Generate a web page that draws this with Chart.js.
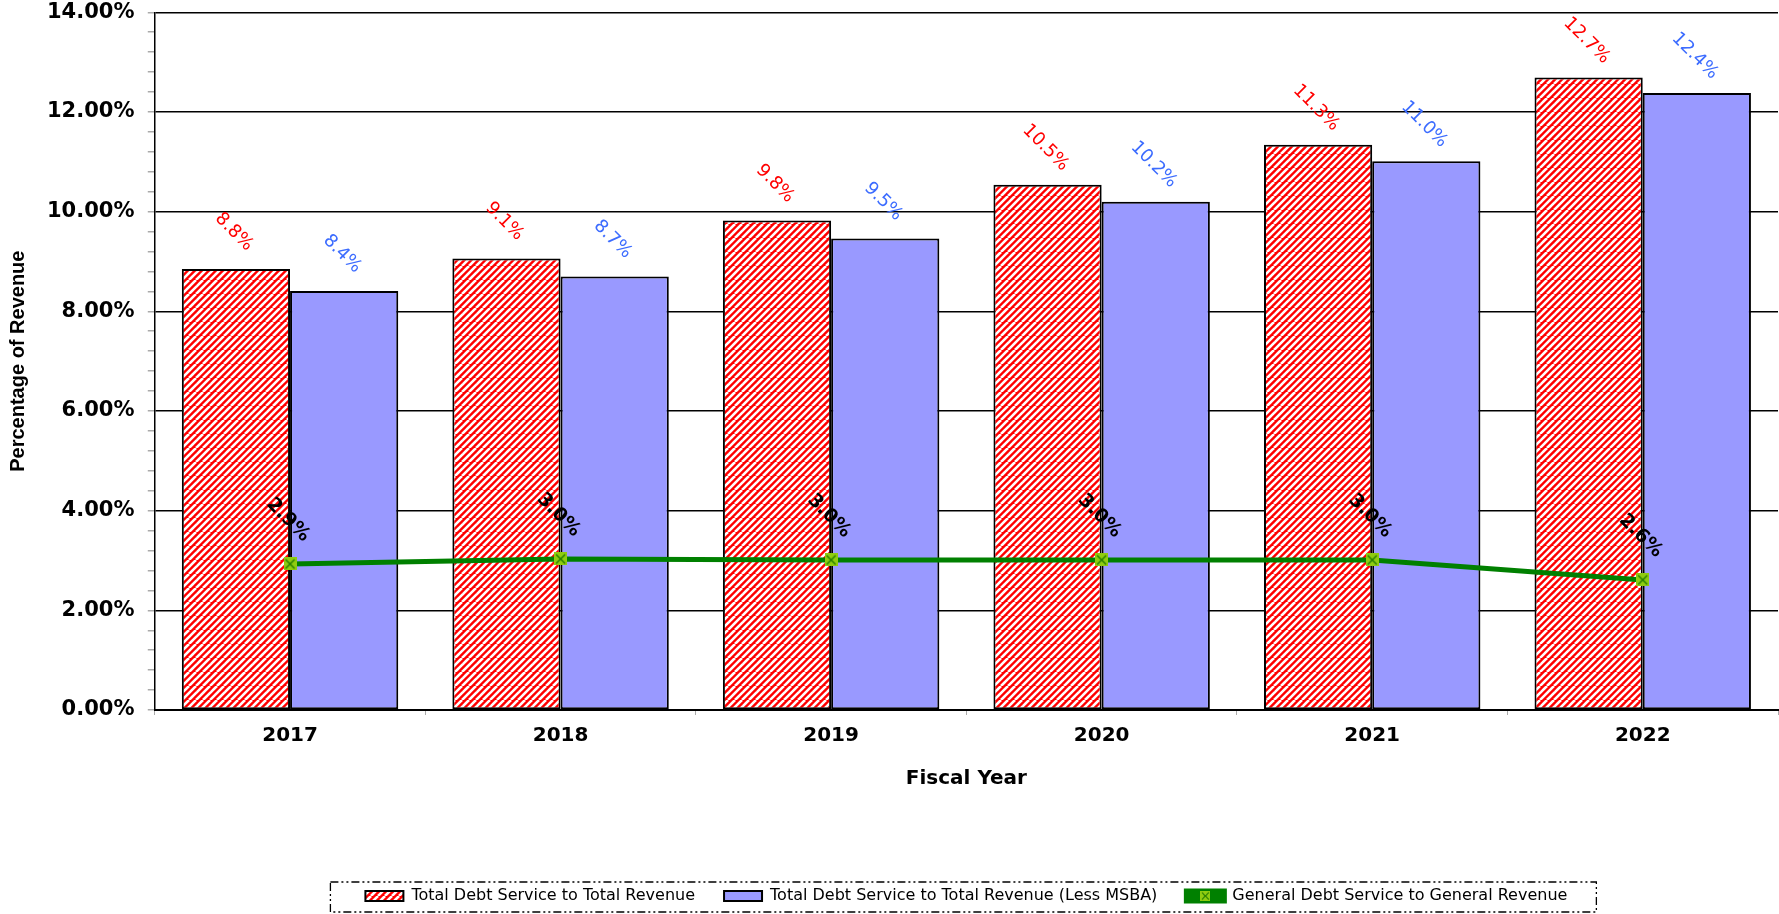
<!DOCTYPE html>
<html>
<head>
<meta charset="utf-8">
<script src="https://cdn.jsdelivr.net/npm/chart.js@4.4.1/dist/chart.umd.min.js"></script>
<style>
  html, body { margin: 0; padding: 0; background: #fff; overflow: hidden; }
  #wrap { width: 1779px; height: 914px; }
  canvas { display: block; }
</style>
</head>
<body>
<div id="wrap"><canvas id="debtChart" width="1779" height="914"></canvas></div>
<script>
const years = ["2017", "2018", "2019", "2020", "2021", "2022"];
const totalDebtToRevenue = [8.85, 9.06, 9.82, 10.54, 11.34, 12.69];
const totalDebtLessMsba = [8.41, 8.70, 9.46, 10.20, 11.01, 12.38];
const generalDebtToGeneral = [2.93, 3.03, 3.01, 3.01, 3.01, 2.61];
const yTickLabels = ["0.00%", "2.00%", "4.00%", "6.00%", "8.00%", "10.00%", "12.00%", "14.00%"];

// red / white diagonal hatch
function makeHatch() {
  const c = document.createElement("canvas");
  c.width = 14;
  c.height = 14;
  const g = c.getContext("2d");
  g.fillStyle = "#ff0000";
  g.fillRect(0, 0, 14, 14);
  g.strokeStyle = "#ffffff";
  g.lineWidth = 2.6;
  for (let x = -14; x <= 28; x += 7) {
    g.beginPath();
    g.moveTo(x, 14);
    g.lineTo(x + 14, 0);
    g.stroke();
  }
  return g.createPattern(c, "repeat");
}

// square marker with an X through it
function makeMarker() {
  const c = document.createElement("canvas");
  c.width = 13;
  c.height = 13;
  const g = c.getContext("2d");
  g.fillStyle = "#8fcc10";
  g.fillRect(0, 0, 13, 13);
  g.strokeStyle = "#1f7a00";
  g.lineWidth = 1.4;
  g.beginPath();
  g.moveTo(2, 2); g.lineTo(11, 11);
  g.moveTo(11, 2); g.lineTo(2, 11);
  g.stroke();
  return c;
}

const hatch = makeHatch();
const marker = makeMarker();

function isMajor(v) {
  return Math.abs(v / 2 - Math.round(v / 2)) < 1e-6;
}

const valueLabels = {
  id: "valueLabels",
  afterDatasetsDraw(chart) {
    const ctx = chart.ctx;
    chart.data.datasets.forEach((ds, i) => {
      const meta = chart.getDatasetMeta(i);
      meta.data.forEach((el, j) => {
        const v = ds.data[j];
        ctx.save();
        if (ds.type === "line") {
          ctx.translate(el.x - 2, el.y - 44);
          ctx.font = "bold 19px 'DejaVu Sans'";
        } else {
          ctx.translate(el.x - 2, el.y - 37);
          ctx.font = "18px 'DejaVu Sans'";
        }
        ctx.rotate(Math.PI / 4);
        ctx.fillStyle = ds.labelColor;
        ctx.textAlign = "center";
        ctx.textBaseline = "middle";
        ctx.fillText(v.toFixed(1) + "%", 0, 0);
        ctx.restore();
      });
    });
  }
};

// dash-dot frame round the legend, plus the marker on the line's legend swatch
const legendFrame = {
  id: "legendFrame",
  afterDraw(chart) {
    const legend = chart.legend;
    const boxes = legend.legendHitBoxes;
    if (!boxes || !boxes.length) return;
    const first = boxes[0];
    const last = boxes[boxes.length - 1];
    const left = first.left - 35;
    const right = last.left + last.width + 29;
    const top = first.top - 6;
    const bottom = first.top + first.height + 8;
    const ctx = chart.ctx;
    ctx.save();
    ctx.strokeStyle = "#000";
    ctx.lineWidth = 1.3;
    ctx.setLineDash([8, 3, 2, 3, 2, 3]);
    ctx.strokeRect(left, top, right - left, bottom - top);
    ctx.restore();

    legend.legendItems.forEach((item, k) => {
      if (item.datasetIndex !== 0) return;
      const hb = boxes[k];
      const bw = legend.options.labels.boxWidth;
      ctx.drawImage(marker, hb.left + bw / 2 - 5, hb.top + hb.height / 2 - 5, 10, 10);
    });
  }
};

new Chart(document.getElementById("debtChart"), {
  type: "bar",
  data: {
    labels: years,
    datasets: [
      {
        type: "line",
        label: "General Debt Service to General Revenue",
        data: generalDebtToGeneral,
        borderColor: "#008000",
        backgroundColor: "#008000",
        borderWidth: 5,
        pointStyle: marker,
        pointRadius: 7,
        tension: 0,
        order: 0,
        labelColor: "#000"
      },
      {
        label: "Total Debt Service to Total Revenue",
        data: totalDebtToRevenue,
        backgroundColor: hatch,
        borderColor: "#000",
        borderWidth: 2,
        borderSkipped: false,
        order: 1,
        labelColor: "#ff0000"
      },
      {
        label: "Total Debt Service to Total Revenue (Less MSBA)",
        data: totalDebtLessMsba,
        backgroundColor: "#9999ff",
        borderColor: "#000",
        borderWidth: 2,
        borderSkipped: false,
        order: 2,
        labelColor: "#3c6cff"
      }
    ]
  },
  options: {
    responsive: false,
    animation: false,
    layout: { autoPadding: false, padding: { top: 0, right: 1, left: 4, bottom: 0 } },
    datasets: {
      bar: { categoryPercentage: 0.8, barPercentage: 1.0 }
    },
    plugins: {
      legend: {
        position: "bottom",
        fullSize: false,
        labels: {
          color: "#000",
          font: { family: "DejaVu Sans", size: 16 },
          boxWidth: 38,
          boxHeight: 10,
          padding: 29,
          sort: (a, b) => {
            const order = [1, 2, 0];
            return order.indexOf(a.datasetIndex) - order.indexOf(b.datasetIndex);
          }
        }
      },
      tooltip: { enabled: false }
    },
    scales: {
      x: {
        grid: {
          offset: true,
          drawOnChartArea: false,
          tickColor: "#aaa",
          tickLength: 5
        },
        border: { color: "#000", width: 2 },
        ticks: {
          color: "#000",
          padding: 1,
          font: { family: "DejaVu Sans", size: 20, weight: "bold", lineHeight: 2.0 }
        },
        title: {
          display: true,
          text: "Fiscal Year",
          color: "#000",
          font: { family: "DejaVu Sans", size: 20, weight: "bold" },
          padding: { top: 10, bottom: 68 }
        }
      },
      y: {
        min: 0,
        max: 14,
        grid: {
          color: (c) => (c.tick && isMajor(c.tick.value) ? "#000" : "rgba(0,0,0,0)"),
          lineWidth: 1.5,
          tickColor: "#aaa",
          tickLength: 7
        },
        border: { color: "#000", width: 1.5 },
        ticks: {
          stepSize: 0.4,
          autoSkip: false,
          maxTicksLimit: 100,
          color: "#000",
          padding: 6,
          font: { family: "DejaVu Sans", size: 21, weight: "bold", lineHeight: 0.6 },
          callback: (v) => (isMajor(v) ? yTickLabels[Math.round(v / 2)] + " " : "")
        },
        title: {
          display: true,
          text: "Percentage of Revenue",
          color: "#000",
          font: { family: "Liberation Sans", size: 20, weight: "bold" },
          padding: { top: 2, bottom: 11 }
        }
      }
    }
  },
  plugins: [valueLabels, legendFrame]
});
</script>
</body>
</html>
